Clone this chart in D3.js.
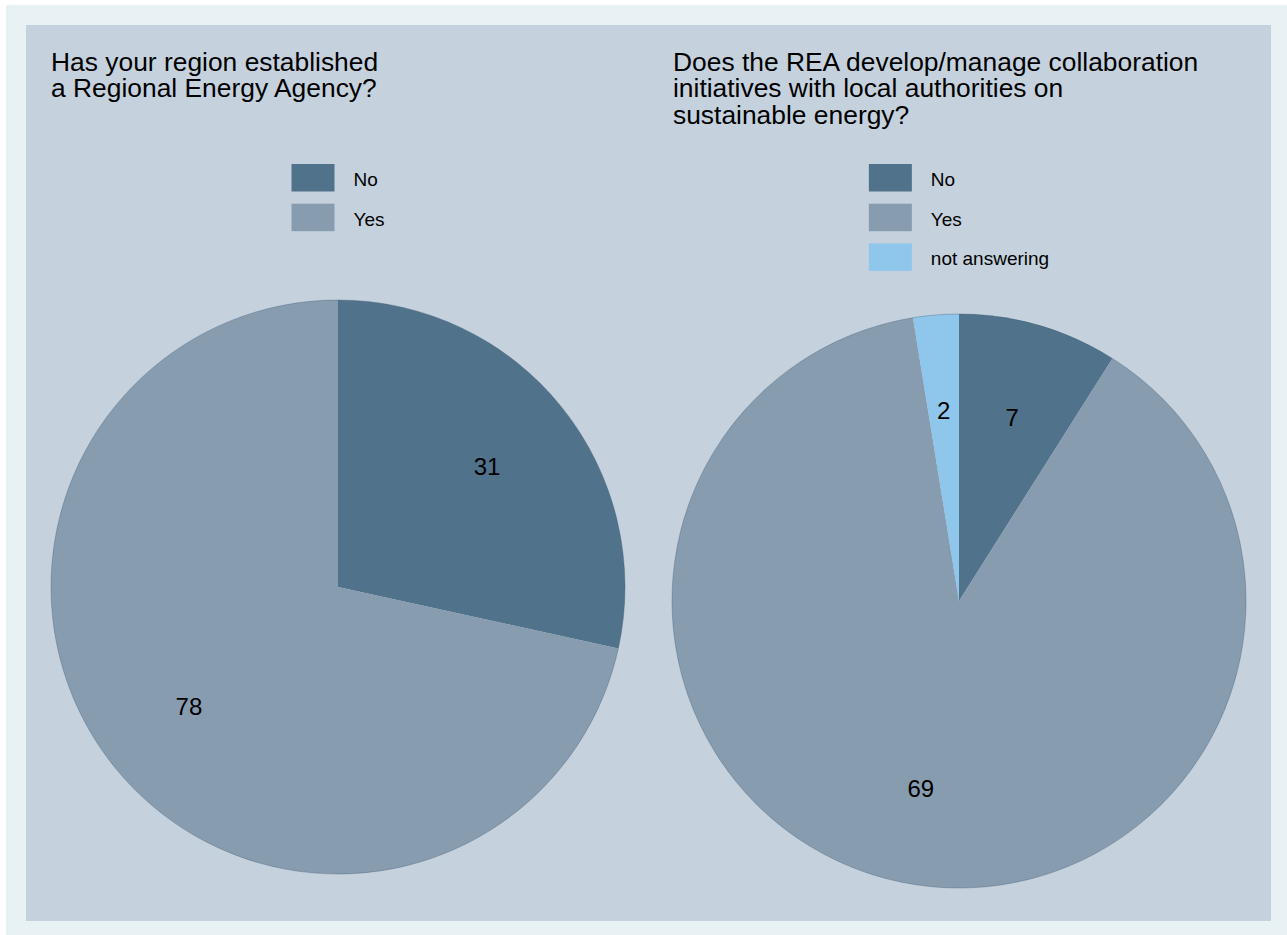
<!DOCTYPE html>
<html><head><meta charset="utf-8">
<script src="https://cdn.jsdelivr.net/npm/d3@7"></script>
<style>body{margin:0;background:#fff;} text{font-family:"Liberation Sans", Arial, sans-serif;}</style>
</head><body><svg id="c" width="1287" height="935"></svg>
<script>
const chart1Title = ["Has your region established", "a Regional Energy Agency?"];
const chart1Categories = ["No", "Yes"];
const chart1Values = [31, 78];
const chart2Title = ["Does the REA develop/manage collaboration", "initiatives with local authorities on", "sustainable energy?"];
const chart2Categories = ["No", "Yes", "not answering"];
const chart2Values = [7, 69, 2];
const categoryColors = {"No": "#50728a", "Yes": "#889cb0", "not answering": "#8fc6eb"};

const svg = d3.select("#c");
svg.append("rect").attr("x", 6).attr("y", 5).attr("width", 1281).attr("height", 930).attr("fill", "#e8f1f3");
svg.append("rect").attr("x", 26).attr("y", 25).attr("width", 1245).attr("height", 896).attr("fill", "#c5d2de");

function drawPie(cfg) {
  const g = svg.append("g");
  const t = g.append("text").attr("x", cfg.titleX).attr("y", 70.8).attr("font-size", 26.4).attr("fill", "#000");
  cfg.title.forEach((line, i) => t.append("tspan").attr("x", cfg.titleX).attr("dy", i === 0 ? 0 : 26.5).text(line));

  const leg = g.append("g");
  cfg.categories.forEach((c, i) => {
    const row = leg.append("g").attr("transform", `translate(0,${164 + i * 39.7})`);
    row.append("rect").attr("width", 43).attr("height", 27.5).attr("fill", categoryColors[c]);
    row.append("text").attr("x", 62).attr("y", 22).attr("font-size", 19).attr("fill", "#000").text(c);
  });
  const bb = leg.node().getBBox();
  leg.attr("transform", `translate(${cfg.cx - bb.width / 2},0)`);

  const pie = d3.pie().sort(null).value(d => d.value);
  const arcs = pie(cfg.categories.map((c, i) => ({cat: c, value: cfg.values[i]})));
  const arc = d3.arc().innerRadius(0).outerRadius(cfg.r);
  const pg = g.append("g").attr("transform", `translate(${cfg.cx},${cfg.cy})`);
  pg.selectAll("path").data(arcs).join("path")
    .attr("d", arc)
    .attr("fill", d => categoryColors[d.data.cat]);
  pg.append("circle").attr("r", cfg.r).attr("fill", "none")
    .attr("stroke", "rgba(60,85,110,0.35)").attr("stroke-width", 1);
  const labelArc = d3.arc().innerRadius(cfg.r * 2 / 3).outerRadius(cfg.r * 2 / 3);
  pg.selectAll("text").data(arcs).join("text")
    .attr("transform", d => `translate(${labelArc.centroid(d)})`)
    .attr("text-anchor", "middle").attr("dy", "0.35em")
    .attr("font-size", 24).attr("fill", "#000")
    .text(d => d.data.value);
}

drawPie({title: chart1Title, categories: chart1Categories, values: chart1Values, cx: 338, cy: 587, r: 287, titleX: 51});
drawPie({title: chart2Title, categories: chart2Categories, values: chart2Values, cx: 959, cy: 601, r: 287, titleX: 673});
</script>
</body></html>
